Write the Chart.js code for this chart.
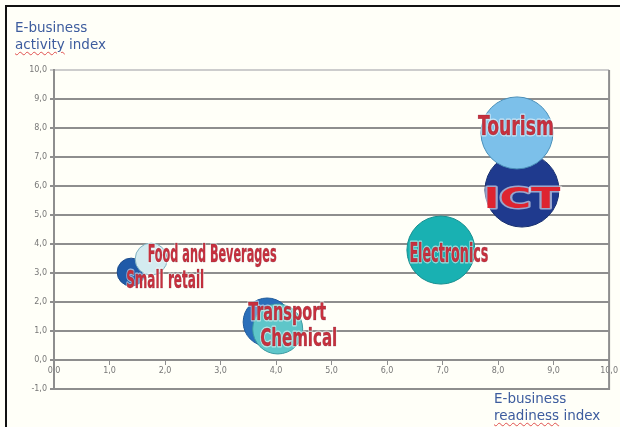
<!DOCTYPE html>
<html>
<head>
<meta charset="utf-8">
<script src="https://cdn.jsdelivr.net/npm/chart.js@4.4.1/dist/chart.umd.min.js"></script>
<style>
    html, body { margin: 0; padding: 0; background: #fffff8; }
    #wrap { position: relative; width: 620px; height: 427px; overflow: hidden; }
    #frame { position: absolute; left: 5px; top: 5px; width: 620px; height: 430px; border-top: 2px solid #111; border-left: 2px solid #111; }
    canvas { position: absolute; left: 0; top: 0; }
    .title { position: absolute; font-family: "DejaVu Sans", Verdana, sans-serif; font-size: 13.5px; line-height: 17px; color: #3d5c9e; white-space: nowrap; }
    .sq { text-decoration: underline wavy #e05050; text-decoration-thickness: 1px; text-underline-offset: 2px; }
</style>
</head>
<body>
<div id="wrap">
    <canvas id="chart" width="620" height="427"></canvas>
    <div id="frame"></div>
    <div class="title" style="left:15px; top:19px;">E-business<br><span class="sq">activity</span> index</div>
    <div class="title" style="left:494px; top:390px;">E-business<br><span class="sq">readiness</span> index</div>
</div>
<script>
// Datos
const industries = ['Small retail', 'Food and Beverages', 'Transport', 'Chemical', 'Electronics', 'ICT', 'Tourism'];
const readiness  = [1.39, 1.75, 3.84, 4.03, 6.97, 8.43, 8.34];
const activity   = [3.03, 3.48, 1.31, 1.07, 3.79, 5.86, 7.83];
const bubbleSize = [14, 16, 24, 25, 34, 37, 36];
const axisMin = { x: 0, y: -1 };
const axisMax = { x: 10, y: 10 };

// Estilos
const fills   = ['#1f5aa8', '#d4ebf0', '#2a6fba', '#5ec6c9', '#19b1b2', '#1f3a8e', '#7cc0ea'];
const borders = ['#1a4a8a', '#7fb0c0', '#1f5a9a', '#3a9aa0', '#178f90', '#18306f', '#4a8fb8'];

// etiqueta: desplazamiento respecto al centro de la burbuja, tamaño y ancho final
const labelStyle = [
    { dx: 34, dy: 16, size: 25, w: 78 },
    { dx: 61, dy: 3,  size: 24, w: 129 },
    { dx: 20, dy: -2, size: 24, w: 78 },
    { dx: 21, dy: 17, size: 25, w: 77 },
    { dx: 8,  dy: 12, size: 26, w: 79 },
    { dx: 0,  dy: 18, size: 29, w: 77, wide: true },
    { dx: -1, dy: 2,  size: 27, w: 76 }
];

const fmt = v => Number(v).toFixed(1).replace('.', ',');

function drawLabel(c, text, x, y, st) {
    c.save();
    c.font = st.wide
        ? `bold ${st.size}px "DejaVu Sans", sans-serif`
        : `bold ${st.size}px "Liberation Sans Narrow", "DejaVu Sans Condensed", sans-serif`;
    const w = c.measureText(text).width;
    c.translate(x, y);
    c.scale(st.w / w, 1);
    c.textAlign = 'center';
    c.textBaseline = 'alphabetic';
    c.lineJoin = 'round';
    c.strokeStyle = 'rgba(255,255,255,0.55)';
    c.lineWidth = 3;
    c.strokeText(text, 0, 0);
    c.fillStyle = st.wide ? '#de2430' : '#c8303e';
    c.fillText(text, 0, 0);
    if (!st.wide) {
        c.strokeStyle = 'rgba(100,30,40,0.45)';
        c.lineWidth = 0.6;
        c.strokeText(text, 0, 0);
    }
    c.restore();
}

const frameAndLabels = {
    id: 'frameAndLabels',
    beforeDatasetsDraw(chart) {
        const { ctx, chartArea: a } = chart;
        ctx.save();
        ctx.strokeStyle = '#8e8e8e';
        ctx.lineWidth = 2;
        ctx.beginPath();
        ctx.moveTo(a.left, a.bottom);
        ctx.lineTo(a.right, a.bottom);
        ctx.lineTo(a.right, a.top);
        ctx.stroke();
        ctx.restore();
    },
    afterDatasetsDraw(chart) {
        const ctx = chart.ctx;
        const meta = chart.getDatasetMeta(0);
        meta.data.forEach((pt, i) => {
            const st = labelStyle[i];
            drawLabel(ctx, industries[i], pt.x + st.dx, pt.y + st.dy, st);
        });
    }
};

const tickFont = { size: 8, family: '"DejaVu Sans", sans-serif' };

new Chart(document.getElementById('chart').getContext('2d'), {
    type: 'bubble',
    data: {
        datasets: [{
            label: 'Sectors',
            data: industries.map((n, i) => ({ x: readiness[i], y: activity[i], r: bubbleSize[i] })),
            backgroundColor: fills,
            borderColor: borders,
            borderWidth: 1,
            clip: false
        }]
    },
    options: {
        responsive: false,
        animation: false,
        layout: { autoPadding: false, padding: { top: 70, right: 10, bottom: 38, left: 0 } },
        plugins: { legend: { display: false }, tooltip: { enabled: false } },
        scales: {
            x: {
                type: 'linear',
                position: { y: 0 },
                min: axisMin.x, max: axisMax.x,
                ticks: { stepSize: 1, callback: fmt, color: '#777', font: tickFont, padding: 2, maxRotation: 0, autoSkip: false },
                grid: { drawOnChartArea: false, tickLength: 4, color: '#8e8e8e', lineWidth: 1 },
                border: { color: '#8e8e8e', width: 2 }
            },
            y: {
                min: axisMin.y, max: axisMax.y,
                afterFit(s) { s.width = 54; },
                ticks: { stepSize: 1, callback: fmt, color: '#777', font: tickFont, padding: 3, autoSkip: false },
                grid: {
                    color: c => c.tick && c.tick.value === 10 ? '#cdcdcd' : '#8e8e8e',
                    lineWidth: 2,
                    tickLength: 4
                },
                border: { color: '#8e8e8e', width: 2 }
            }
        }
    },
    plugins: [frameAndLabels]
});
</script>
</body>
</html>
